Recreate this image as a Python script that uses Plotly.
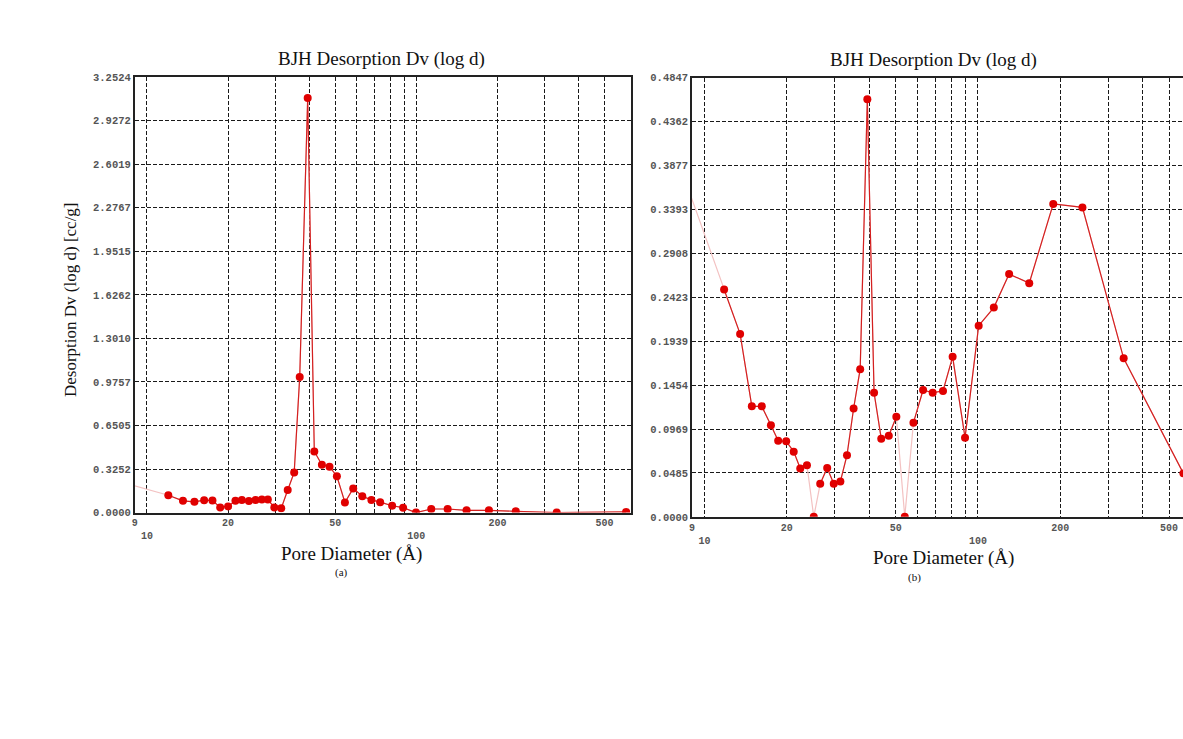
import math
import plotly.graph_objects as go

# ---------------- data ----------------
left_d = [8.0, 12.0, 13.6, 15.0, 16.3, 17.5, 18.7, 20.0, 21.3, 22.5, 23.9, 25.3, 26.7, 28.1,
          29.7, 31.5, 33.3, 35.2, 36.9, 39.5, 41.8, 44.6, 47.6, 50.7, 54.3, 58.3, 63.0, 68.1,
          73.4, 81.3, 89.3, 99.7, 113.6, 130.7, 153.6, 186.0, 234.0, 332.0, 601.0]
left_dv = [0.228, 0.130, 0.088, 0.081, 0.093, 0.090, 0.039, 0.046, 0.088, 0.095, 0.086, 0.095,
           0.098, 0.098, 0.039, 0.032, 0.169, 0.300, 1.013, 3.096, 0.457, 0.357, 0.343, 0.272,
           0.076, 0.181, 0.122, 0.095, 0.078, 0.051, 0.037, 0.000, 0.027, 0.027, 0.017, 0.017,
           0.010, 0.000, 0.005]
left_faint = [(0, 1)]

right_d = [8.0, 11.8, 13.5, 14.9, 16.2, 17.5, 18.6, 19.9, 21.2, 22.4, 23.7, 25.1, 26.5, 28.1,
           29.7, 31.4, 33.2, 35.1, 37.1, 39.4, 41.7, 44.3, 47.2, 50.3, 54.0, 58.1, 63.0, 68.3,
           74.5, 80.8, 89.7, 100.6, 114.3, 130.0, 154.0, 188.5, 241.0, 341.0, 564.0]
right_dv = [0.394, 0.251, 0.202, 0.122, 0.122, 0.101, 0.084, 0.0835, 0.072, 0.0535, 0.057, 0.000,
            0.0365, 0.054, 0.0365, 0.039, 0.068, 0.1196, 0.163, 0.461, 0.137, 0.0863, 0.0896,
            0.1106, 0.000, 0.104, 0.140, 0.137, 0.139, 0.1767, 0.0874, 0.211, 0.231, 0.268,
            0.258, 0.3455, 0.3416, 0.175, 0.048]
right_faint = [(0, 1), (10, 11), (11, 12), (23, 24), (24, 25)]

left_yticks = [0.0, 0.32524, 0.65048, 0.97572, 1.30096, 1.6262, 1.95144, 2.27668, 2.60192, 2.92716, 3.2524]
left_yticktext = ["0.0000", "0.3252", "0.6505", "0.9757", "1.3010", "1.6262", "1.9515", "2.2767",
                  "2.6019", "2.9272", "3.2524"]
right_yticks = [0.0, 0.04847, 0.09694, 0.14541, 0.19388, 0.24235, 0.29082, 0.33929, 0.38776, 0.43623, 0.4847]
right_yticktext = ["0.0000", "0.0485", "0.0969", "0.1454", "0.1939", "0.2423", "0.2908", "0.3393",
                   "0.3877", "0.4362", "0.4847"]

x_tickvals = [9, 10, 20, 50, 100, 200, 500]
x_ticktext = ["9", "<br>10", "20", "50", "<br>100", "200", "500"]
x_minor_grid = [30, 40, 60, 70, 80, 90, 300, 400]

title_text = "BJH Desorption Dv (log d)"
ytitle_text = "Desorption Dv (log d) [cc/g]"
xtitle_text = "Pore Diameter (Å)"

# ---------------- figure ----------------
W, H = 1183, 739
RED = "#e00000"
LINE_RED = "#d42020"
PINK = "#f3c2c2"
SERIF = "Liberation Serif"
MONO = "Liberation Mono"


def px(x):
    return x / W


def py(y):
    return 1 - y / H


fig = go.Figure()


def add_series(xs, ys, faint, xa, ya):
    fig.add_trace(go.Scatter(x=xs, y=ys, mode="lines", line=dict(color=PINK, width=1.2),
                             xaxis=xa, yaxis=ya, hoverinfo="skip", showlegend=False))
    rx, ry = [], []
    n = len(xs)
    for i in range(n - 1):
        if (i, i + 1) in faint:
            continue
        if rx and rx[-1] is not None and rx[-1] == xs[i]:
            rx.append(xs[i + 1]); ry.append(ys[i + 1])
        else:
            if rx:
                rx.append(None); ry.append(None)
            rx += [xs[i], xs[i + 1]]; ry += [ys[i], ys[i + 1]]
    fig.add_trace(go.Scatter(x=rx, y=ry, mode="lines", line=dict(color=LINE_RED, width=1.2),
                             xaxis=xa, yaxis=ya, connectgaps=False, hoverinfo="skip", showlegend=False))
    fig.add_trace(go.Scatter(x=xs, y=ys, mode="markers", marker=dict(color=RED, size=8),
                             xaxis=xa, yaxis=ya, showlegend=False))


add_series(left_d, left_dv, left_faint, "x", "y")
add_series(right_d, right_dv, right_faint, "x2", "y2")

grid = dict(showgrid=True, gridcolor="#1a1a1a", gridwidth=1, griddash="4px,2px")
tickfont = dict(family=MONO, size=10, color="#555555", weight="bold")


def xaxis_cfg(domain, rng, mirror):
    return dict(domain=domain, type="log", range=[math.log10(r) for r in rng],
                tickmode="array", tickvals=x_tickvals, ticktext=x_ticktext,
                tickfont=tickfont, ticks="", zeroline=False,
                showline=True, linecolor="#222222", linewidth=1.5, mirror=mirror,
                minor=dict(tickmode="array", tickvals=x_minor_grid, showgrid=True,
                           gridcolor="#1a1a1a", gridwidth=1, griddash="4px,2px", ticks=""),
                **grid)


def yaxis_cfg(domain, rng, vals, text, anchor, mirror):
    return dict(domain=domain, range=rng, anchor=anchor, tickmode="array", tickvals=vals,
                ticktext=text, tickfont=dict(family=MONO, size=10.5, color="#555555", weight="bold"),
                ticks="", zeroline=False, showline=True, linecolor="#222222", linewidth=1.5,
                mirror=mirror, **grid)


fig.update_layout(
    width=W, height=H,
    margin=dict(l=0, r=0, t=0, b=0),
    paper_bgcolor="white", plot_bgcolor="white",
    showlegend=False,
    xaxis=xaxis_cfg([px(132), px(629.3)], [9, 625], True) | dict(anchor="y"),
    yaxis=yaxis_cfg([py(516), py(73.3)], [0, 3.2524], left_yticks, left_yticktext, "x", True),
    xaxis2=xaxis_cfg([px(690.7), 1.0], [9, 562], True) | dict(anchor="y2"),
    yaxis2=yaxis_cfg([py(520.3), py(74)], [0, 0.4847], right_yticks, right_yticktext, "x2", False),
)

annotations = [
    dict(text=title_text, x=px(379), y=py(55), font=dict(family=SERIF, size=19, color="#111")),
    dict(text=title_text, x=px(933), y=py(56), font=dict(family=SERIF, size=19, color="#111")),
    dict(text=xtitle_text, x=px(349), y=py(558), font=dict(family=SERIF, size=19, color="#111")),
    dict(text=xtitle_text, x=px(943), y=py(562), font=dict(family=SERIF, size=19, color="#111")),
    dict(text="(a)", x=px(339), y=py(577), font=dict(family=SERIF, size=11, color="#111")),
    dict(text="(b)", x=px(914), y=py(582), font=dict(family=SERIF, size=11, color="#111")),
    dict(text=ytitle_text, x=px(67), y=py(299), textangle=-90,
         font=dict(family=SERIF, size=17, color="#111")),
]
for a in annotations:
    a.update(xref="paper", yref="paper", showarrow=False, xanchor="center", yanchor="middle")
fig.update_layout(annotations=annotations)

# remove the default page margin so the figure fills the window exactly
page_fix = ("document.body.style.margin='0';document.body.style.overflow='hidden';"
            "document.documentElement.style.overflow='hidden';")
fig.write_html("out.html", post_script=page_fix, config={"displayModeBar": False})
